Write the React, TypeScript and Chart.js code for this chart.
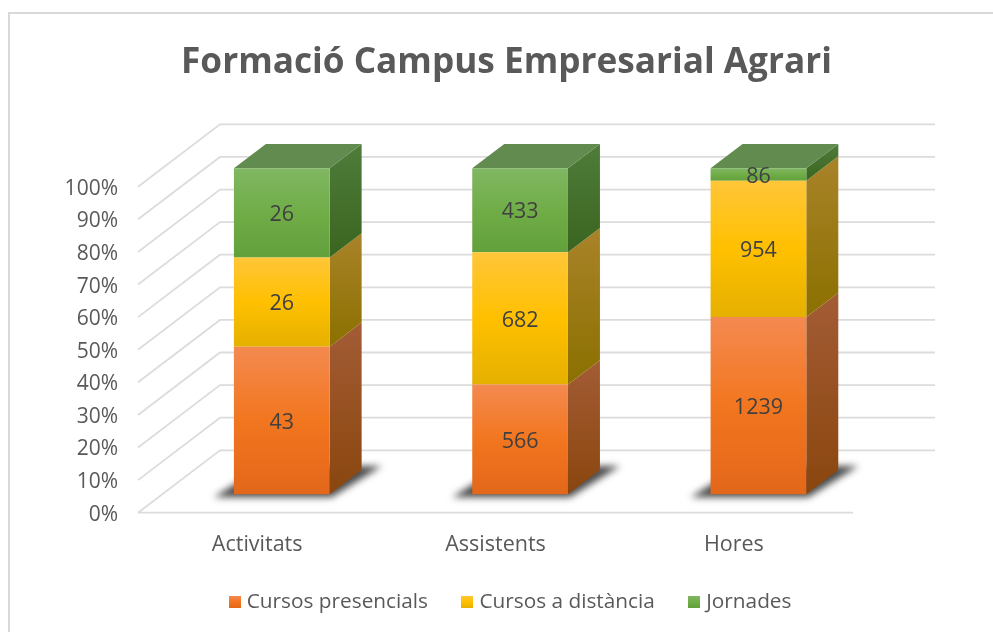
import React, { useEffect, useRef } from "react";
import { Chart, registerables } from "chart.js";

Chart.register(...registerables);

const categories = ["Activitats", "Assistents", "Hores"];
const presencials = [43, 566, 1239];
const distancia = [26, 682, 954];
const jornades = [26, 433, 86];
const seriesNames = ["Cursos presencials", "Cursos a distància", "Jornades"];
const seriesRaw = [presencials, distancia, jornades];
const frontStops = [
  ["#F48A50", "#F2761F", "#E3671A"],
  ["#FFC639", "#FFC000", "#E5B000"],
  ["#80B763", "#70AD47", "#62A03C"],
];
const sideStops = [
  ["#A35C35", "#8A460E"],
  ["#A98329", "#8B7000"],
  ["#4F7C3A", "#3A6520"],
];
const topFace = "#618B4F";
const titleText = "Formació Campus Empresarial Agrari";
const yTicks = { min: 0, max: 100, step: 10 };
const fontFamily = "'Open Sans', sans-serif";

const DEPTH = { x: 82, y: 62.4 };
const WALL_SHIFT = 2;
const BAR_OFFSET = { x: 24.6, y: 20.4 };
const BAR_DEPTH = { x: 32, y: 24.4 };

const totals = categories.map((_, i) => seriesRaw.reduce((s, a) => s + a[i], 0));
const share = (a: number[]) => a.map((v, i) => (v / totals[i]) * 100);

function legendSquare(stops: string[]) {
  const c = document.createElement("canvas");
  c.width = 12;
  c.height = 12;
  const x = c.getContext("2d")!;
  const g = x.createLinearGradient(0, 0, 0, 12);
  g.addColorStop(0, stops[0]);
  g.addColorStop(0.5, stops[1]);
  g.addColorStop(1, stops[2]);
  x.fillStyle = g;
  x.fillRect(0, 0, 12, 12);
  return c;
}

const poly = (ctx: CanvasRenderingContext2D, pts: number[][]) => {
  ctx.beginPath();
  pts.forEach((p, i) => (i ? ctx.lineTo(p[0], p[1]) : ctx.moveTo(p[0], p[1])));
  ctx.closePath();
};

const walls = {
  id: "walls",
  afterLayout(chart: any) {
    chart.legend.left += 5.8;
    chart.legend.right += 5.8;
    chart.legend.top -= 9.6;
    chart.legend.bottom -= 9.6;
  },
  beforeDraw(chart: any) {
    const { ctx, chartArea: a, scales } = chart;
    ctx.save();
    ctx.strokeStyle = "#D9D9D9";
    ctx.lineWidth = 2;
    ctx.beginPath();
    ctx.moveTo(9, 640);
    ctx.lineTo(9, 13);
    ctx.lineTo(1000, 13);
    ctx.stroke();
    ctx.lineWidth = 1.8;
    ctx.strokeStyle = "#DCDCDC";
    scales.y.ticks.forEach((t: any) => {
      const y = scales.y.getPixelForValue(t.value) - WALL_SHIFT;
      ctx.beginPath();
      ctx.moveTo(a.left, y);
      ctx.lineTo(a.left + DEPTH.x, y - DEPTH.y);
      ctx.lineTo(a.right + DEPTH.x, y - DEPTH.y);
      ctx.stroke();
    });
    ctx.beginPath();
    ctx.moveTo(a.left, a.bottom - WALL_SHIFT);
    ctx.lineTo(a.right, a.bottom - WALL_SHIFT);
    ctx.stroke();
    ctx.restore();
  },
};

const bars3d = {
  id: "bars3d",
  beforeDatasetsDraw(chart: any) {
    const { ctx } = chart;
    ctx.save();
    ctx.translate(BAR_OFFSET.x, -BAR_OFFSET.y);
    // floor shadow
    chart.getDatasetMeta(0).data.forEach((b: any) => {
      const l = b.x - b.width / 2;
      const r = b.x + b.width / 2;
      ctx.save();
      ctx.filter = "blur(3.5px)";
      ctx.fillStyle = "rgba(35,35,35,0.82)";
      poly(ctx, [
        [l - 20, b.base + 3],
        [r + 2, b.base + 3],
        [r + BAR_DEPTH.x + 20, b.base - BAR_DEPTH.y - 4],
        [l + 30, b.base - BAR_DEPTH.y - 4],
      ]);
      ctx.fill();
      ctx.restore();
    });
    // side and top faces
    chart.data.datasets.forEach((_: any, di: number) => {
      chart.getDatasetMeta(di).data.forEach((b: any) => {
        const r = b.x + b.width / 2;
        const l = b.x - b.width / 2;
        const g = ctx.createLinearGradient(0, b.y - BAR_DEPTH.y, 0, b.base);
        g.addColorStop(0, sideStops[di][0]);
        g.addColorStop(1, sideStops[di][1]);
        ctx.fillStyle = g;
        poly(ctx, [
          [r, b.y],
          [r + BAR_DEPTH.x, b.y - BAR_DEPTH.y],
          [r + BAR_DEPTH.x, b.base - BAR_DEPTH.y],
          [r, b.base],
        ]);
        ctx.fill();
        if (di === chart.data.datasets.length - 1) {
          ctx.fillStyle = topFace;
          poly(ctx, [
            [l, b.y],
            [l + BAR_DEPTH.x, b.y - BAR_DEPTH.y],
            [r + BAR_DEPTH.x, b.y - BAR_DEPTH.y],
            [r, b.y],
          ]);
          ctx.fill();
        }
      });
    });
  },
  afterDatasetsDraw(chart: any) {
    const { ctx } = chart;
    ctx.fillStyle = "#404040";
    ctx.font = `21.5px ${fontFamily}`;
    ctx.textAlign = "center";
    ctx.textBaseline = "middle";
    chart.data.datasets.forEach((_: any, di: number) => {
      chart.getDatasetMeta(di).data.forEach((b: any, i: number) => {
        ctx.fillText(String(seriesRaw[di][i]), b.x, (b.y + b.base) / 2 + 2);
      });
    });
    ctx.restore();
  },
};

export default function App() {
  const ref = useRef<HTMLCanvasElement>(null);
  useEffect(() => {
    document.body.style.margin = "0";
    document.body.style.overflow = "hidden";
    const chart = new Chart(ref.current!, {
      type: "bar",
      plugins: [walls, bars3d],
      data: {
        labels: categories,
        datasets: seriesRaw.map((raw, di) => ({
          label: seriesNames[di],
          data: share(raw),
          clip: false,
          borderWidth: 0,
          barPercentage: 1,
          categoryPercentage: 0.4016,
          backgroundColor: (c: any) => {
            const y = c.chart.scales?.y;
            if (!y || c.dataIndex === undefined) return frontStops[di][1];
            const before = seriesRaw
              .slice(0, di)
              .reduce((s, a) => s + (a[c.dataIndex] / totals[c.dataIndex]) * 100, 0);
            const y0 = y.getPixelForValue(before);
            const y1 = y.getPixelForValue(before + (raw[c.dataIndex] / totals[c.dataIndex]) * 100);
            const g = c.chart.ctx.createLinearGradient(0, y1, 0, y0);
            g.addColorStop(0, frontStops[di][0]);
            g.addColorStop(0.5, frontStops[di][1]);
            g.addColorStop(1, frontStops[di][2]);
            return g;
          },
        })),
      } as any,
      options: {
        animation: false,
        responsive: false,
        layout: { padding: { left: 20, right: 0, top: 0, bottom: 0 } },
        plugins: {
          tooltip: { enabled: false },
          title: {
            display: true,
            text: titleText,
            color: "#595959",
            font: { family: fontFamily, size: 35.2, weight: "bold" },
            padding: { top: 42, bottom: 104.5 },
          },
          legend: {
            position: "bottom",
            labels: {
              usePointStyle: true,
              pointStyleWidth: 3.2,
              padding: 37.8,
              color: "#595959",
              font: { family: fontFamily, size: 20.8 },
              generateLabels: () =>
                seriesNames.map((n, i) => ({
                  text: n,
                  pointStyle: legendSquare(frontStops[i]),
                  fontColor: "#595959",
                  datasetIndex: i,
                  lineWidth: 0,
                })),
            },
          },
        },
        scales: {
          x: {
            stacked: true,
            grid: { display: false },
            border: { display: false },
            ticks: {
              color: "#595959",
              font: { family: fontFamily, size: 21.5 },
              padding: 9,
              maxRotation: 0,
              autoSkip: false,
            },
            afterFit: (s: any) => {
              s.height = 48.7;
            },
          },
          y: {
            stacked: true,
            min: yTicks.min,
            max: yTicks.max,
            grid: { display: false, drawTicks: false },
            border: { display: false },
            ticks: {
              stepSize: yTicks.step,
              color: "#595959",
              font: { family: fontFamily, size: 21 },
              padding: 20,
              callback: (v: any) => `${v}%`,
            },
            afterFit: (s: any) => {
              s.width = 118;
            },
          },
          spacer: {
            position: "right",
            grid: { display: false, drawTicks: false },
            border: { display: false },
            ticks: { display: false },
            afterFit: (s: any) => {
              s.width = 140;
            },
          },
        },
      } as any,
    });
    return () => chart.destroy();
  }, []);
  return (
    <div style={{ position: "absolute", left: 0, top: 0, width: 993, height: 632, background: "#fff" }}>
      <canvas ref={ref} width={993} height={632} style={{ display: "block" }} />
    </div>
  );
}
